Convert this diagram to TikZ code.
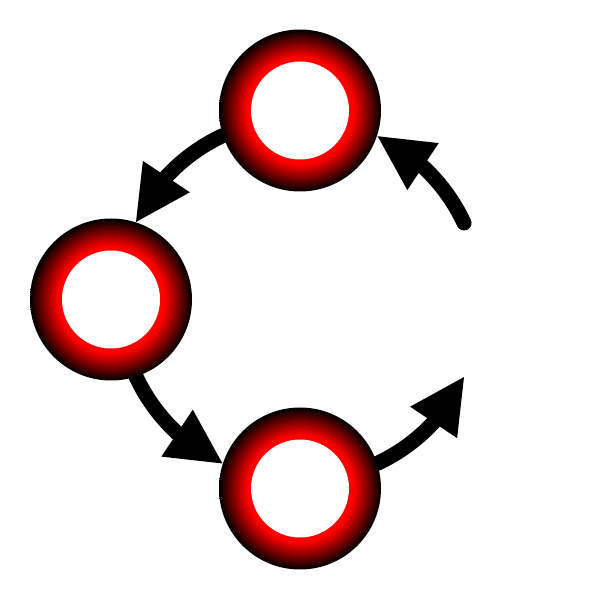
\documentclass[tikz,border=0pt]{standalone}
\usetikzlibrary{arrows.meta,backgrounds,calc,bending}
\pgfdeclareradialshading{ringshade}{\pgfpoint{0bp}{0bp}}{color(0bp)=(red); color(15bp)=(red); color(16.5bp)=(red); color(25bp)=(black); color(50bp)=(black)}
\tikzset{
  ringnode/.style={circle, minimum size=162pt, inner sep=0pt, shading=ringshade,
    path picture={\fill[white] (path picture bounding box.center) circle (49pt);}},
  arr/.style={line width=15pt, line cap=round, -{Triangle[length=56pt,width=52pt,flex]}}
}
\begin{document}
\begin{tikzpicture}[x=1pt,y=1pt]
\useasboundingbox (0,0) rectangle (600,600);
\coordinate (C) at (300,300.5);
\node[ringnode] (top) at ($(C)+(90:189)$) {};
\node[ringnode] (left) at ($(C)+(180:189)$) {};
\node[ringnode] (bottom) at ($(C)+(270:189)$) {};
\coordinate (free) at ($(C)+(25:181)$);
\begin{scope}[on background layer]
\draw[arr] (top.198) arc[start angle=115, end angle=155, radius=181];
\draw[arr] (left.288) arc[start angle=205, end angle=245, radius=181];
\draw[arr] (bottom.18) arc[start angle=295, end angle=335, radius=181];
\draw[arr] (free) arc[start angle=25, end angle=65, radius=181];
\end{scope}
\end{tikzpicture}
\end{document}
